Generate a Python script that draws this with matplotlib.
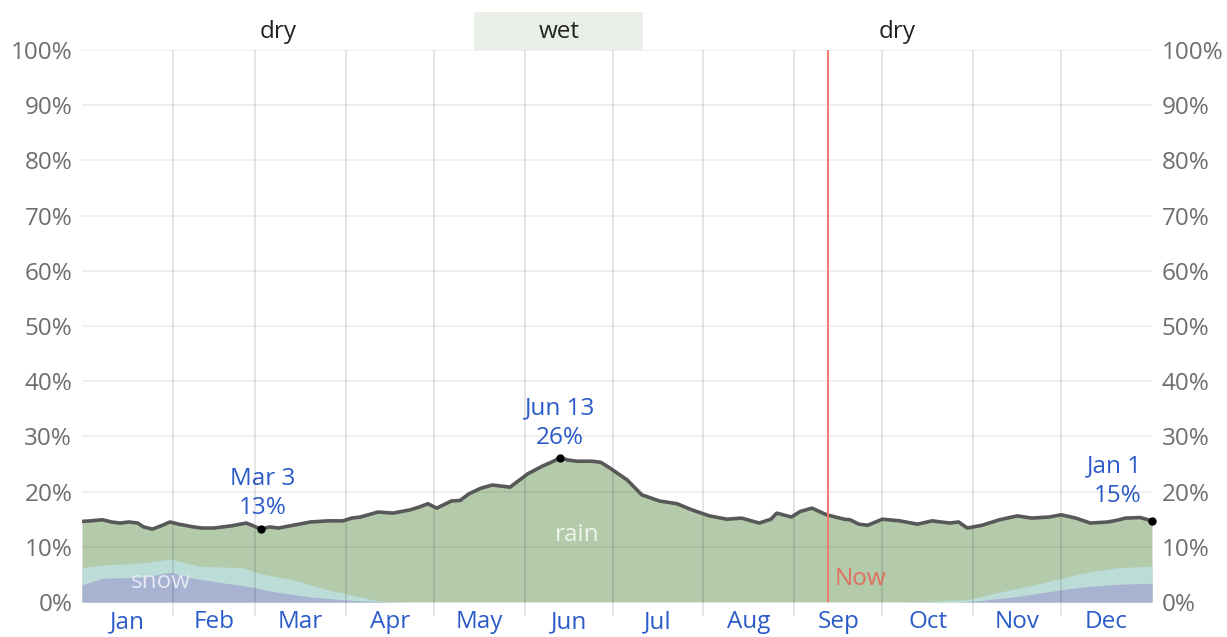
import matplotlib.pyplot as plt
import numpy as np

plt.rcParams['font.family'] = ['Open Sans', 'DejaVu Sans']

# chance of precipitation, day of year -> %
total_days = [0, 3, 7, 10, 13, 16, 19, 21, 24, 27, 30, 33, 38, 41, 45, 48, 51, 56, 58, 61,
              64, 67, 72, 78, 84, 89, 92, 95, 101, 106, 112, 115, 118, 121, 126, 129, 132,
              136, 140, 146, 149, 152, 157, 160, 163, 166, 169, 174, 177, 180, 186, 191,
              197, 203, 208, 214, 220, 225, 231, 235, 237, 242, 245, 249, 254, 260, 262,
              265, 268, 273, 279, 285, 290, 296, 299, 302, 307, 313, 319, 324, 330, 334,
              339, 344, 350, 353, 356, 361, 365]
total_pct = [14.6, 14.7, 14.9, 14.5, 14.3, 14.5, 14.3, 13.6, 13.2, 13.8, 14.5, 14.1, 13.6,
             13.4, 13.4, 13.6, 13.8, 14.3, 13.9, 13.2, 13.6, 13.4, 13.9, 14.5, 14.7, 14.7,
             15.2, 15.4, 16.3, 16.1, 16.7, 17.2, 17.8, 17.0, 18.3, 18.4, 19.6, 20.6, 21.2,
             20.8, 22.0, 23.2, 24.6, 25.3, 26.1, 25.7, 25.5, 25.5, 25.3, 24.3, 22.1, 19.4,
             18.3, 17.8, 16.7, 15.6, 15.0, 15.2, 14.3, 15.0, 16.1, 15.4, 16.4, 17.0, 15.8,
             15.0, 14.9, 14.1, 13.9, 15.0, 14.7, 14.1, 14.7, 14.3, 14.5, 13.4, 13.9, 14.9,
             15.6, 15.2, 15.4, 15.8, 15.2, 14.3, 14.5, 14.8, 15.2, 15.3, 14.7]

# top of the mixed band (snow + mixed)
mixed_days = [0, 7, 21, 30, 40, 55, 61, 72, 84, 95, 103, 281, 302, 313, 324, 334, 342, 353, 365]
mixed_pct = [6.2, 6.7, 7.1, 7.8, 6.5, 6.2, 5.1, 4.0, 2.2, 0.9, 0.0, 0.0, 0.4, 1.8, 3.0, 4.3,
             5.3, 6.2, 6.5]

snow_days = [0, 7, 21, 30, 38, 49, 58, 66, 78, 89, 100, 110, 300, 307, 319, 334, 341, 353, 365]
snow_pct = [3.1, 4.3, 4.5, 5.4, 4.3, 3.4, 2.7, 1.8, 0.9, 0.4, 0.1, 0.0, 0.0, 0.3, 1.0, 2.2,
            2.7, 3.2, 3.4]

month_starts = [0, 31, 59, 90, 120, 151, 181, 212, 243, 273, 304, 334, 365]
months = ['Jan', 'Feb', 'Mar', 'Apr', 'May', 'Jun', 'Jul', 'Aug', 'Sep', 'Oct', 'Nov', 'Dec']
now_day = 254.4
wet_start, wet_end = 133.8, 191.5

blue = '#2a5bc9'
grey = '#6e6e6e'
fs = 17.5

fig = plt.figure(figsize=(12.27, 6.37), dpi=100)
ax = fig.add_axes([82/1227, 35/637, 1070/1227, 552/637])

ax.fill_between(total_days, 0, total_pct, color='#b3cbab', lw=0, zorder=1)
ax.fill_between(mixed_days, 0, mixed_pct, color='#bcdcd8', lw=0, zorder=2)
ax.fill_between(snow_days, 0, snow_pct, color='#a8b2d1', lw=0, zorder=3)
ax.plot(total_days, total_pct, color='#585858', lw=2.6, zorder=5)

# grid on top of the fills
for yv in range(10, 101, 10):
    ax.axhline(yv, color='black', alpha=0.07, lw=1.2, zorder=4)
for d in month_starts[1:-1]:
    ax.plot([d, d], [0, 100], color='black', alpha=0.12, lw=1.2, zorder=4)

ax.axvline(now_day, color='#f07a72', lw=1.4, zorder=6)
ax.text(now_day + 2.5, 4.2, 'Now', color='#e0705f', fontsize=fs, va='center', zorder=7)
ax.text(169, 12.1, 'rain', color='#f0f4ee', fontsize=fs, ha='center', va='center', zorder=7)
ax.text(27, 3.6, 'snow', color='#e6e9f3', fontsize=fs, ha='center', va='center', zorder=7)

# extremes
ax.plot([61, 163, 365], [13.2, 26.1, 14.7], 'o', color='black', ms=5, zorder=8, clip_on=False)
ax.text(61.5, 19.7, 'Mar 3\n13%', color=blue, fontsize=fs, ha='center', va='center',
        linespacing=1.3)
ax.text(163, 32.4, 'Jun 13\n26%', color=blue, fontsize=fs, ha='center', va='center',
        linespacing=1.3)
ax.text(361.5, 21.9, 'Jan 1\n15%', color=blue, fontsize=fs, ha='right', va='center',
        linespacing=1.3, multialignment='right')

# wet / dry season band
ax.add_patch(plt.Rectangle((wet_start, 100), wet_end - wet_start, 6.9, color='#e9efe6',
                           lw=0, clip_on=False, zorder=0))
ax.text(162.7, 103.3, 'wet', fontsize=fs, ha='center', va='center', color='#222222')
ax.text(66.8, 103.3, 'dry', fontsize=fs, ha='center', va='center', color='#222222')
ax.text(278, 103.3, 'dry', fontsize=fs, ha='center', va='center', color='#222222')

ax.set_xlim(0, 365)
ax.set_ylim(0, 100)
ax.set_xticks(month_starts[1:-1])
ax.set_xticklabels([])
ax.tick_params(axis='x', which='major', length=10, color=(0, 0, 0, 0.12), width=1.2)
mids = [(a + b) / 2 for a, b in zip(month_starts[:-1], month_starts[1:])]
ax.set_xticks(mids, minor=True)
ax.set_xticklabels(months, minor=True, color=blue, fontsize=fs)
ax.tick_params(axis='x', which='minor', length=0, pad=6)

yt = list(range(0, 101, 10))
ax.set_yticks(yt)
ax.set_yticklabels([f'{v}%' for v in yt], color=grey, fontsize=fs)
ax.tick_params(axis='y', length=0, pad=7, labelright=True)
for s in ax.spines.values():
    s.set_visible(False)

fig.savefig('out.png', dpi=100)
